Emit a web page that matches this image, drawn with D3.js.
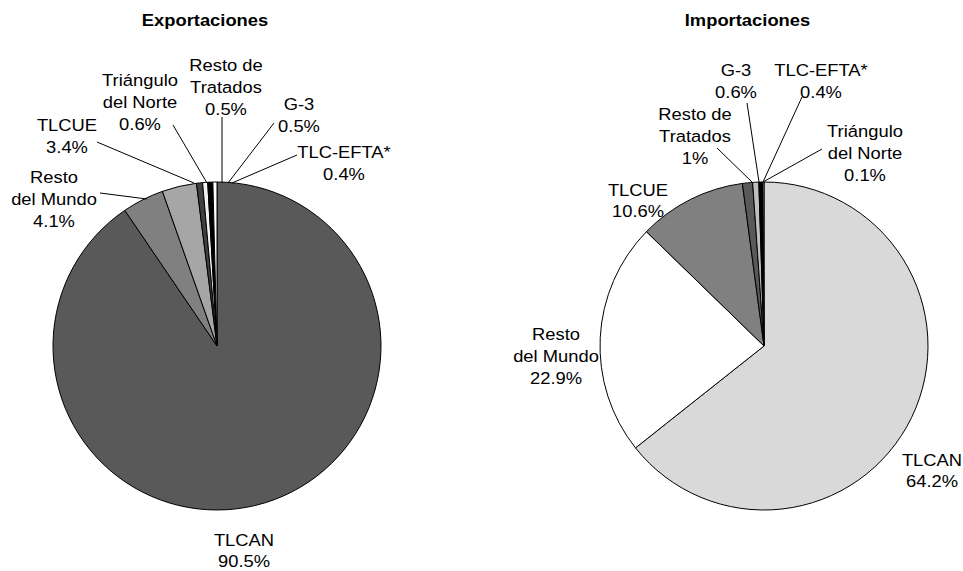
<!DOCTYPE html>
<html><head><meta charset="utf-8">
<script src="https://cdn.jsdelivr.net/npm/d3@7"></script>
<style>
html,body{margin:0;padding:0;background:#fff;}
text{font-family:"Liberation Sans",Arial,sans-serif;fill:#000;}
</style></head>
<body>
<svg id="chart" width="963" height="571"></svg>
<script>
// ---- DATA ----
const expCategories = ["TLCAN","Resto del Mundo","TLCUE","Triángulo del Norte","Resto de Tratados","G-3","TLC-EFTA*"];
const expValues = [90.5, 4.1, 3.4, 0.6, 0.5, 0.5, 0.4];
const impCategories = ["TLCAN","Resto del Mundo","TLCUE","Resto de Tratados","G-3","TLC-EFTA*","Triángulo del Norte"];
const impValues = [64.2, 22.9, 10.6, 1, 0.6, 0.4, 0.1];
const chartTitles = ["Exportaciones","Importaciones"];

// ---- STYLE / LAYOUT ----
const expColors = ["#595959","#808080","#a6a6a6","#404040","#f2f2f2","#000000","#ffffff"];
const impColors = ["#d9d9d9","#ffffff","#808080","#595959","#bfbfbf","#000000","#ffffff"];
const labelLines = {
  "TLCAN":["TLCAN"], "Resto del Mundo":["Resto","del Mundo"], "TLCUE":["TLCUE"],
  "Triángulo del Norte":["Triángulo","del Norte"], "Resto de Tratados":["Resto de","Tratados"],
  "G-3":["G-3"], "TLC-EFTA*":["TLC-EFTA*"]
};
// label placement relative to pie centre
const expLayout = {
  "TLCAN":              {x:27,  y:200, lh:21},
  "Resto del Mundo":    {x:-163,y:-163, l:[-117,-153,-70,-147]},
  "TLCUE":              {x:-150,y:-215, l:[-120,-204,-23,-163]},
  "Triángulo del Norte":{x:-77, y:-260, l:[-44,-221,-10,-163]},
  "Resto de Tratados":  {x:9,   y:-275, l:[5,-229,5,-163]},
  "G-3":                {x:82,  y:-236, l:[57,-223,11,-163]},
  "TLC-EFTA*":          {x:127, y:-188, l:[80,-191,15,-163]}
};
const impLayout = {
  "TLCAN":              {x:168, y:120, lh:21},
  "Resto del Mundo":    {x:-208,y:-6},
  "TLCUE":              {x:-126,y:-150, lh:21},
  "Resto de Tratados":  {x:-69, y:-226, l:[-47,-198,-12,-164]},
  "G-3":                {x:-28, y:-270, l:[-17,-243,-5,-164]},
  "TLC-EFTA*":          {x:57,  y:-270, l:[38,-249,-1,-164]},
  "Triángulo del Norte":{x:101, y:-209, l:[58,-197,-1,-164]}
};

const svg = d3.select("#chart");
const R = 164, lineH = 22, fontSize = 17, sx = 1.08;

function drawPie(cx, cy, title, titleX, cats, vals, colors, layout){
  const g = svg.append("g").attr("transform",`translate(${cx},${cy})`);
  const pie = d3.pie().sort(null).startAngle(0).endAngle(2*Math.PI);
  const arcs = pie(vals);
  const arc = d3.arc().innerRadius(0).outerRadius(R);
  g.selectAll("path.slice").data(arcs).enter().append("path")
    .attr("class","slice")
    .attr("d",arc)
    .attr("fill",(d,i)=>colors[i])
    .attr("stroke","#000").attr("stroke-width",1).attr("stroke-linejoin","round");

  svg.append("g").attr("transform",`translate(${titleX},26) scale(${sx},1)`)
    .append("text").attr("x",0).attr("y",0).attr("text-anchor","middle")
    .attr("font-weight","bold").attr("font-size",fontSize).text(title);

  const fmt = v => (Math.round(v*10)/10) + "%";
  cats.forEach((c,i)=>{
    const L = layout[c];
    if(L.l){
      g.append("line").attr("x1",L.l[0]).attr("y1",L.l[1]).attr("x2",L.l[2]).attr("y2",L.l[3])
        .attr("stroke","#000").attr("stroke-width",1);
    }
    const lines = labelLines[c].concat([fmt(vals[i])]);
    const lh = L.lh || lineH;
    const t = g.append("g").attr("transform",`translate(${L.x},${L.y}) scale(${sx},1)`)
      .append("text").attr("text-anchor","middle").attr("font-size",fontSize);
    lines.forEach((s,k)=>{
      t.append("tspan").attr("x",0).attr("y",k*lh).text(s);
    });
  });
}

drawPie(217,346,chartTitles[0],205,expCategories,expValues,expColors,expLayout);
drawPie(764,346,chartTitles[1],747.5,impCategories,impValues,impColors,impLayout);
</script>
</body></html>
